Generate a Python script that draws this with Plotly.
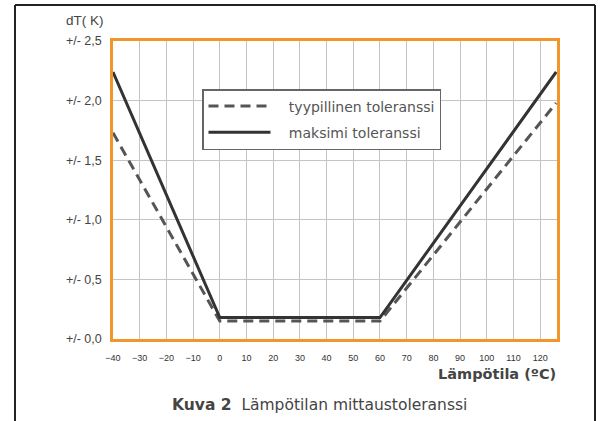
import plotly.graph_objects as go

# Data
temp_typ = [-40, 0, 60, 126]
tol_typ = [1.73, 0.15, 0.15, 1.98]
temp_max = [-40, 0, 60, 126]
tol_max = [2.24, 0.18, 0.18, 2.24]

x_ticks = [-40, -30, -20, -10, 0, 10, 20, 30, 40, 50, 60, 70, 80, 90, 100, 110, 120]
y_ticks = [0, 0.5, 1.0, 1.5, 2.0, 2.5]
y_ticktext = ["+/- 0,0", "+/- 0,5", "+/- 1,0", "+/- 1,5", "+/- 2,0", "+/- 2,5"]

series_names = ["tyypillinen toleranssi", "maksimi toleranssi"]

W, H = 602, 421
L, R, T, B = 113, 45, 41, 82
pw, ph = W - L - R, H - T - B

def px_x(p):
    return (p - L) / pw

def px_y(p):
    return (H - B - p) / ph

pad = "\u00a0\u00a0\u00a0"

fig = go.Figure()
fig.add_trace(go.Scatter(
    x=temp_typ, y=tol_typ, mode="lines", name=pad + series_names[0],
    line=dict(color="#555555", width=3, dash="10px,6px"), legendgroup="a"))
fig.add_trace(go.Scatter(
    x=temp_max, y=tol_max, mode="lines", name=pad + series_names[1],
    line=dict(color="#333333", width=3), legendgroup="b"))

fig.update_layout(
    width=W, height=H,
    margin=dict(l=L, r=R, t=T, b=B),
    paper_bgcolor="white", plot_bgcolor="white",
    font=dict(family="Liberation Sans, Arial, sans-serif", color="#444444"),
    showlegend=True,
    legend=dict(
        x=px_x(202), y=px_y(89), xanchor="left", yanchor="top",
        bordercolor="#666666", borderwidth=1.5, bgcolor="white",
        font=dict(size=14, color="#555555", family="DejaVu Sans, Verdana, sans-serif"),
        tracegroupgap=5, itemwidth=62,
    ),
)
fig.update_xaxes(
    range=[-40, 126.3], tickvals=x_ticks, showgrid=True,
    gridcolor="#c4c4c4", gridwidth=1.3, zeroline=False,
    showline=True, linecolor="#f0962a", linewidth=2.5, mirror=True,
    ticks="", ticklabelstandoff=8,
    tickfont=dict(size=9, color="#333333", family="Liberation Sans, Arial"),
)
fig.update_yaxes(
    range=[0, 2.5], tickvals=y_ticks, ticktext=y_ticktext, showgrid=True,
    gridcolor="#c4c4c4", gridwidth=1.3, zeroline=False,
    showline=True, linecolor="#f0962a", linewidth=2.5, mirror=True,
    ticks="", ticklabelstandoff=6,
    tickfont=dict(size=12.5, color="#444444"),
)

# Outer frame (three visible sides)
frame = dict(color="#222222", width=2)
fx0, fx1, fy_top, fy_bot = px_x(15), px_x(595), px_y(5), px_y(421)
fig.add_shape(type="line", xref="paper", yref="paper", x0=fx0, x1=fx1, y0=fy_top, y1=fy_top, line=frame)
fig.add_shape(type="line", xref="paper", yref="paper", x0=fx0, x1=fx0, y0=fy_top, y1=fy_bot, line=frame)
fig.add_shape(type="line", xref="paper", yref="paper", x0=fx1, x1=fx1, y0=fy_top, y1=fy_bot, line=frame)

fig.add_annotation(text="dT( K)", xref="paper", yref="paper",
                   x=px_x(106), y=px_y(20), xanchor="right", yanchor="middle",
                   showarrow=False, font=dict(size=13.5, color="#444444"))
fig.add_annotation(text="<b>Lämpötila (ºC)</b>", xref="paper", yref="paper",
                   x=px_x(558), y=px_y(374), xanchor="right", yanchor="middle",
                   showarrow=False,
                   font=dict(size=14.5, color="#444444", family="DejaVu Sans, Verdana, sans-serif"))
fig.add_annotation(text="<b>Kuva 2</b>  Lämpötilan mittaustoleranssi", xref="paper", yref="paper",
                   x=px_x(170), y=px_y(405), xanchor="left", yanchor="middle",
                   showarrow=False,
                   font=dict(size=15.5, color="#444444", family="DejaVu Sans, Verdana, sans-serif"))

fig.write_html(
    "out.html",
    config={"displayModeBar": False},
    post_script="document.body.style.margin='0px';document.body.style.overflow='hidden';"
                "document.documentElement.style.overflow='hidden';",
)
